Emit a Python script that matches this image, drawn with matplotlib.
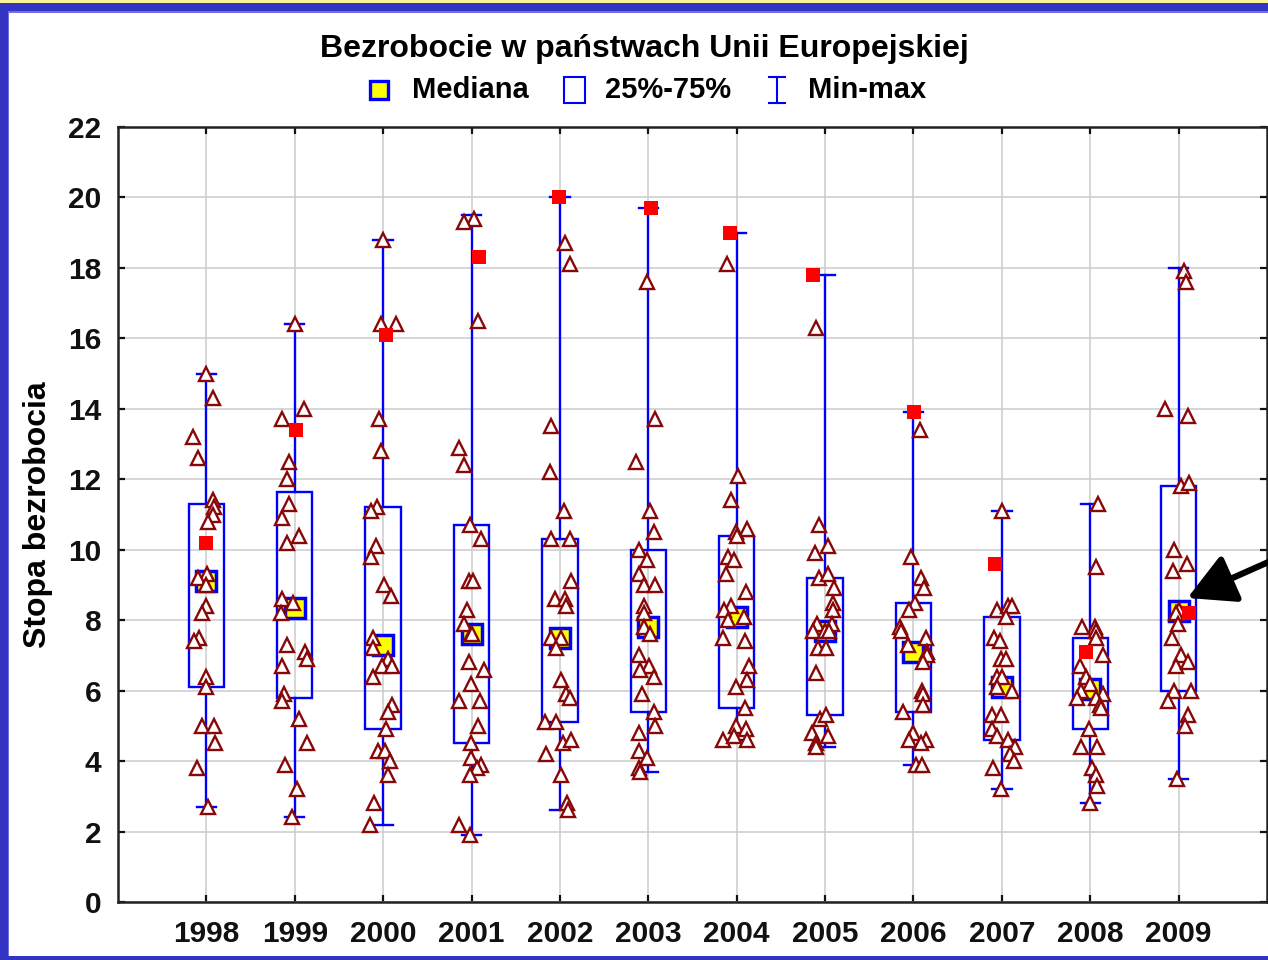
import numpy as np
import matplotlib
matplotlib.use("Agg")
import matplotlib.pyplot as plt
from matplotlib.patches import Rectangle
from matplotlib.lines import Line2D

plt.rcParams['font.family'] = ['Liberation Sans', 'DejaVu Sans']
plt.rcParams['font.weight'] = 'bold'

# box plot statistics
years = [1998, 1999, 2000, 2001, 2002, 2003, 2004, 2005, 2006, 2007, 2008, 2009]
q1 = [6.1, 5.8, 4.9, 4.5, 5.1, 5.4, 5.5, 5.3, 5.4, 4.6, 4.9, 6.0]
q3 = [11.3, 11.65, 11.2, 10.7, 10.3, 10.0, 10.4, 9.2, 8.5, 8.1, 7.5, 11.8]
med = [9.1, 8.35, 7.3, 7.6, 7.5, 7.8, 8.1, 7.7, 7.1, 6.1, 6.05, 8.25]
vmin = [2.7, 2.4, 2.2, 1.9, 2.6, 3.7, 4.6, 4.4, 3.9, 3.2, 2.8, 3.5]
vmax = [15.0, 16.4, 18.8, 19.5, 20.0, 19.7, 19.0, 17.8, 13.9, 11.1, 11.3, 18.0]

# Polska (red squares)
poland = [10.2, 13.4, 16.1, 18.3, 20.0, 19.7, 19.0, 17.8, 13.9, 9.6, 7.1, 8.2]
poland_jit = [-0.01, 0.01, 0.03, 0.09, -0.01, 0.03, -0.08, -0.14, 0.01, -0.08, -0.05, 0.12]

# remaining countries (triangles), one list per year
points = [
    [15.0, 14.3, 13.2, 12.6, 11.4, 11.2, 11.0, 10.8, 9.3, 9.2, 9.0, 8.4, 8.2, 7.5, 7.4, 6.4, 6.1, 5.0, 5.0, 4.5, 3.8, 2.7],
    [16.4, 14.0, 13.7, 12.5, 12.0, 11.3, 10.9, 10.4, 10.2, 8.6, 8.5, 8.2, 7.3, 7.1, 6.9, 6.7, 5.9, 5.7, 5.2, 4.5, 3.9, 3.2, 2.4],
    [18.8, 16.4, 16.4, 13.7, 12.8, 11.2, 11.1, 10.1, 9.8, 9.0, 8.7, 7.5, 7.2, 6.9, 6.7, 6.7, 6.4, 5.6, 5.4, 4.9, 4.3, 4.3, 4.0, 3.6, 2.8, 2.2],
    [19.4, 19.3, 16.5, 12.9, 12.4, 10.7, 10.3, 9.1, 9.1, 8.3, 7.9, 7.6, 7.6, 6.8, 6.6, 6.2, 5.7, 5.7, 5.0, 4.5, 4.1, 3.9, 3.8, 3.6, 2.2, 1.9],
    [18.7, 18.1, 13.5, 12.2, 11.1, 10.3, 10.3, 9.1, 8.6, 8.6, 8.4, 7.5, 7.5, 7.2, 6.3, 5.9, 5.8, 5.1, 5.1, 4.5, 4.6, 4.2, 3.6, 2.8, 2.6],
    [17.6, 13.7, 12.5, 11.1, 10.5, 10.0, 9.7, 9.3, 9.0, 9.0, 8.4, 8.2, 7.8, 7.6, 7.0, 6.7, 6.6, 6.4, 5.9, 5.4, 5.0, 4.8, 4.3, 4.1, 3.8, 3.7],
    [18.1, 12.1, 11.4, 10.6, 10.5, 10.4, 9.8, 9.7, 9.3, 8.8, 8.4, 8.3, 8.1, 8.0, 7.5, 7.4, 6.7, 6.3, 6.1, 5.5, 5.0, 4.9, 4.6, 4.7, 4.6],
    [16.3, 10.7, 10.1, 9.9, 9.2, 9.3, 8.9, 8.5, 8.3, 7.9, 7.9, 7.7, 7.7, 7.7, 7.2, 7.2, 6.5, 5.2, 5.3, 4.8, 4.7, 4.5, 4.4],
    [13.4, 9.8, 9.2, 8.9, 8.5, 8.3, 7.8, 7.7, 7.5, 7.3, 7.1, 7.0, 6.8, 6.0, 5.9, 5.6, 5.4, 4.8, 4.6, 4.6, 4.5, 3.9, 3.9],
    [11.1, 8.3, 8.4, 8.4, 8.1, 7.5, 7.4, 6.9, 6.9, 6.4, 6.4, 6.1, 6.0, 5.3, 5.3, 4.9, 4.7, 4.6, 4.4, 4.2, 4.0, 3.8, 3.2],
    [11.3, 9.5, 7.8, 7.8, 7.7, 7.5, 7.0, 6.7, 6.4, 6.2, 6.0, 5.8, 5.9, 5.8, 5.6, 5.5, 4.9, 4.4, 4.4, 3.8, 3.6, 3.3, 2.8],
    [17.9, 17.6, 14.0, 13.8, 11.8, 11.9, 10.0, 9.6, 9.4, 8.3, 8.2, 7.9, 7.5, 7.0, 6.7, 6.8, 6.0, 6.0, 5.7, 5.3, 5.0, 3.5],
]

# horizontal jitter of the triangles (fraction of a year), as seen on the chart
jitter = [
    [0, .08, -.15, -.09, .08, .09, .08, .02, .01, -.10, 0, 0, -.05, -.08, -.14, -.01, -.01, -.05, .09, .10, -.11, .02],
    [0, .11, -.14, -.06, -.09, -.07, -.14, .05, -.09, -.15, -.02, -.16, -.09, .12, .14, -.15, -.12, -.15, .05, .14, -.11, .03, -.03],
    [0, -.03, .14, -.05, -.02, -.07, -.14, -.08, -.14, .01, .09, -.12, -.12, .06, -.01, .10, -.12, .10, .05, .03, -.06, .02, .08, .05, -.10, -.15],
    [.03, -.09, .07, -.14, -.09, -.02, .11, -.03, .02, -.05, -.08, -.01, .01, -.03, .14, -.01, -.14, .10, .07, -.01, -.01, .11, .06, -.02, -.14, -.02],
    [.06, .11, -.10, -.11, .05, -.10, .11, .12, -.06, .06, .07, -.10, .01, -.05, .01, .07, .11, -.17, -.05, .03, .12, -.16, .01, .08, .09],
    [-.01, .08, -.14, .02, .06, -.10, -.01, -.10, -.05, .08, -.05, -.05, -.05, .02, -.11, .01, -.09, .07, -.07, .07, .08, -.10, -.10, -.02, -.11, -.09],
    [-.11, .02, -.07, .12, -.01, 0, -.10, -.03, -.12, .11, -.07, -.14, .08, -.10, -.15, .09, .14, .12, -.01, .09, -.01, .10, -.16, -.03, .12],
    [-.10, -.07, .03, -.11, -.07, .03, .10, .09, .09, .08, -.09, -.14, 0, .05, -.08, .01, -.10, -.06, .01, -.15, .03, -.10, -.10],
    [.07, -.03, .08, .12, .02, -.05, -.15, -.14, .14, -.06, .15, .15, .11, .10, .11, .11, -.12, 0, -.05, .14, .08, .03, .10],
    [0, -.06, .07, .12, .05, -.09, -.02, -.01, .05, -.06, 0, -.06, .12, -.11, -.01, -.11, -.06, .07, .15, .09, .14, -.10, -.01],
    [.09, .07, -.09, .05, .07, .07, .14, -.12, -.05, 0, -.11, -.15, .15, .07, .11, .12, -.01, -.10, .08, .02, .07, .08, 0],
    [.06, .08, -.15, .11, .03, .12, -.05, .10, -.06, .01, -.03, -.01, -.07, .03, -.03, .11, -.05, .14, -.12, .11, .07, -.02],
]

blue = '#0000ff'
tri_col = '#880808'
W, H = 1268, 960

fig = plt.figure(figsize=(W / 100, H / 100), dpi=100)
fig.patch.set_facecolor('#fbf59a')
# window frame
fig.add_artist(Rectangle((0, 0), 1.01, 957 / H, transform=fig.transFigure,
                         facecolor='#3434c4', edgecolor='none', zorder=-3))
fig.add_artist(Rectangle((8 / W, 4 / H), 1.0, 945 / H, transform=fig.transFigure,
                         facecolor='#7070e0', edgecolor='none', zorder=-2))
fig.add_artist(Rectangle((9 / W, 4 / H), 1.0, 943 / H, transform=fig.transFigure,
                         facecolor='white', edgecolor='none', zorder=-1))

ax = fig.add_axes([118 / W, 58 / H, 1149 / W, 775 / H])
ax.set_facecolor('none')

for i, yr in enumerate(years):
    ax.add_patch(Rectangle((yr - 0.2, q1[i]), 0.4, q3[i] - q1[i], fill=False,
                           edgecolor=blue, lw=1.7, zorder=3))
    ax.plot([yr, yr], [q3[i], vmax[i]], color=blue, lw=1.7, zorder=3)
    ax.plot([yr, yr], [vmin[i], q1[i]], color=blue, lw=1.7, zorder=3)
    ax.plot([yr - 0.11, yr + 0.11], [vmax[i], vmax[i]], color=blue, lw=1.7, zorder=3)
    ax.plot([yr - 0.11, yr + 0.11], [vmin[i], vmin[i]], color=blue, lw=1.7, zorder=3)
    ax.plot(yr, med[i], 's', ms=14.5, mfc='yellow', mec=blue, mew=2.5, zorder=4)
    ax.plot(yr + np.array(jitter[i]), points[i], '^', ls='none', ms=9.5,
            mfc='white', mec=tri_col, mew=1.7, zorder=5)
    ax.plot(yr + poland_jit[i], poland[i], 's', ms=10, color='#ff0000', mew=0, zorder=6)

ax.set_xlim(1997, 2010)
ax.set_ylim(0, 22)
ax.set_xticks(years)
ax.set_yticks(np.arange(0, 23, 2))
ax.grid(True, color='#cccccc', lw=1.1, zorder=0)
ax.set_axisbelow(True)
ax.tick_params(direction='in', length=5, width=1.6, top=True, right=True,
               labelsize=21.5, colors='#111111')
ax.tick_params(axis='x', pad=13)
ax.tick_params(axis='y', pad=12)
for s in ax.spines.values():
    s.set_linewidth(1.8)
    s.set_color('#222222')

ax.set_ylabel('Stopa bezrobocia', fontsize=23, fontweight='bold')
ax.yaxis.set_label_coords(-0.057, 0.5)

fig.text(644 / W, 1 - 49 / H, 'Bezrobocie w państwach Unii Europejskiej',
         ha='center', va='center', fontsize=23, fontweight='bold')

# legend row
ly = 1 - 90 / H
fig.add_artist(Line2D([379 / W], [ly], marker='s', ms=13, mfc='yellow', mec=blue,
                      mew=2.4, transform=fig.transFigure))
fig.text(412 / W, ly, 'Mediana', ha='left', va='center', fontsize=21, fontweight='bold')
fig.add_artist(Rectangle((564 / W, 1 - 103 / H), 21 / W, 26 / H, fill=False,
                         edgecolor=blue, lw=1.5, transform=fig.transFigure))
fig.text(605 / W, ly, '25%-75%', ha='left', va='center', fontsize=21, fontweight='bold')
fig.add_artist(Line2D([777 / W, 777 / W], [1 - 77 / H, 1 - 103 / H], color=blue, lw=1.5,
                      transform=fig.transFigure))
fig.add_artist(Line2D([769 / W, 785 / W], [1 - 77 / H, 1 - 77 / H], color=blue, lw=1.5,
                      transform=fig.transFigure))
fig.add_artist(Line2D([769 / W, 785 / W], [1 - 103 / H, 1 - 103 / H], color=blue, lw=1.5,
                      transform=fig.transFigure))
fig.text(808 / W, ly, 'Min-max', ha='left', va='center', fontsize=21, fontweight='bold')

# arrow pointing at the 2009 box
ax.annotate('', xy=(2009.1, 8.63), xytext=(2010.15, 9.8),
            arrowprops=dict(arrowstyle='-|>,head_length=1.3,head_width=0.7',
                            lw=4.5, color='black', mutation_scale=22,
                            shrinkA=0, shrinkB=0),
            annotation_clip=False, zorder=8)

fig.savefig('out.png', dpi=100)
